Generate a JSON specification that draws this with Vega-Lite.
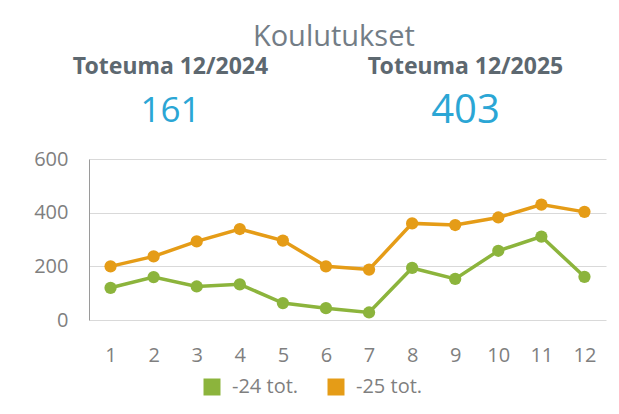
{
  "$schema": "https://vega.github.io/schema/vega-lite/v6.json",
  "background": "white",
  "padding": {"left": 33, "top": 23, "right": 8, "bottom": 5},
  "title": {"text": "Koulutukset", "fontSize": 29, "font": "Open Sans", "fontWeight": "normal", "color": "#737d86", "anchor": "middle", "offset": 4, "dx": 14},
  "config": {"view": {"stroke": null}, "font": "Open Sans", "concat": {"spacing": 18}},
  "vconcat": [
    {
      "width": 458,
      "height": 66,
      "data": {"values": [
        {"period": "12/2024", "heading": "Toteuma 12/2024", "value": 161},
        {"period": "12/2025", "heading": "Toteuma 12/2025", "value": 403}
      ]},
      "encoding": {
        "x": {"field": "period", "type": "nominal", "axis": null, "scale": {"type": "point", "padding": 0.276}}
      },
      "layer": [
        {
          "mark": {"type": "text", "fontSize": 23, "fontWeight": "bold", "font": "Noto Sans", "color": "#5d6870", "baseline": "middle"},
          "encoding": {
            "text": {"field": "heading"},
            "y": {"datum": "heading", "type": "nominal", "axis": null, "scale": {"type": "point", "domain": ["heading", "value"], "padding": 0.25}}
          }
        },
        {
          "mark": {"type": "text", "color": "#2ba6d5", "baseline": "middle", "font": "Open Sans"},
          "encoding": {
            "text": {"field": "value"},
            "y": {"datum": "value", "type": "nominal", "axis": null, "scale": {"type": "point", "domain": ["heading", "value"], "padding": 0.25}},
            "size": {"condition": {"test": "datum.value > 300", "value": 40}, "value": 35}
          }
        }
      ]
    },
    {
      "width": 517,
      "height": 161,
      "data": {"values": [
        {"month": 1, "series": "-24 tot.", "value": 120},
        {"month": 2, "series": "-24 tot.", "value": 160},
        {"month": 3, "series": "-24 tot.", "value": 125},
        {"month": 4, "series": "-24 tot.", "value": 133},
        {"month": 5, "series": "-24 tot.", "value": 63},
        {"month": 6, "series": "-24 tot.", "value": 44},
        {"month": 7, "series": "-24 tot.", "value": 28},
        {"month": 8, "series": "-24 tot.", "value": 194},
        {"month": 9, "series": "-24 tot.", "value": 153},
        {"month": 10, "series": "-24 tot.", "value": 258},
        {"month": 11, "series": "-24 tot.", "value": 311},
        {"month": 12, "series": "-24 tot.", "value": 161},
        {"month": 1, "series": "-25 tot.", "value": 200},
        {"month": 2, "series": "-25 tot.", "value": 237},
        {"month": 3, "series": "-25 tot.", "value": 293},
        {"month": 4, "series": "-25 tot.", "value": 339},
        {"month": 5, "series": "-25 tot.", "value": 296},
        {"month": 6, "series": "-25 tot.", "value": 200},
        {"month": 7, "series": "-25 tot.", "value": 188},
        {"month": 8, "series": "-25 tot.", "value": 360},
        {"month": 9, "series": "-25 tot.", "value": 354},
        {"month": 10, "series": "-25 tot.", "value": 382},
        {"month": 11, "series": "-25 tot.", "value": 430},
        {"month": 12, "series": "-25 tot.", "value": 403}
      ]},
      "encoding": {
        "x": {"field": "month", "type": "ordinal", "scale": {"type": "point", "padding": 0.5},
          "axis": {"title": null, "labelAngle": 0, "ticks": false, "domain": false, "grid": false, "labelFontSize": 20, "labelColor": "#7f7f7f", "labelPadding": 25}},
        "y": {"field": "value", "type": "quantitative", "scale": {"domain": [0, 600]},
          "axis": {"title": null, "values": [0, 200, 400, 600], "ticks": false, "domainColor": "#9a9a9a", "gridColor": "#d9d9d9", "labelFontSize": 20, "labelColor": "#7f7f7f", "labelPadding": 21}},
        "color": {"field": "series", "type": "nominal", "scale": {"domain": ["-24 tot.", "-25 tot."], "range": ["#8cb43c", "#e59c17"]},
          "legend": {"title": null, "orient": "none", "legendX": 113, "legendY": 321, "direction": "horizontal", "symbolType": "square", "symbolSize": 289, "symbolStrokeWidth": 0, "labelFontSize": 20, "labelColor": "#7f7f7f", "labelOffset": 10, "columnPadding": 27}}
      },
      "layer": [
        {"mark": {"type": "line", "strokeWidth": 3.5}},
        {"mark": {"type": "point", "filled": true, "size": 150, "opacity": 1}}
      ]
    }
  ]
}
